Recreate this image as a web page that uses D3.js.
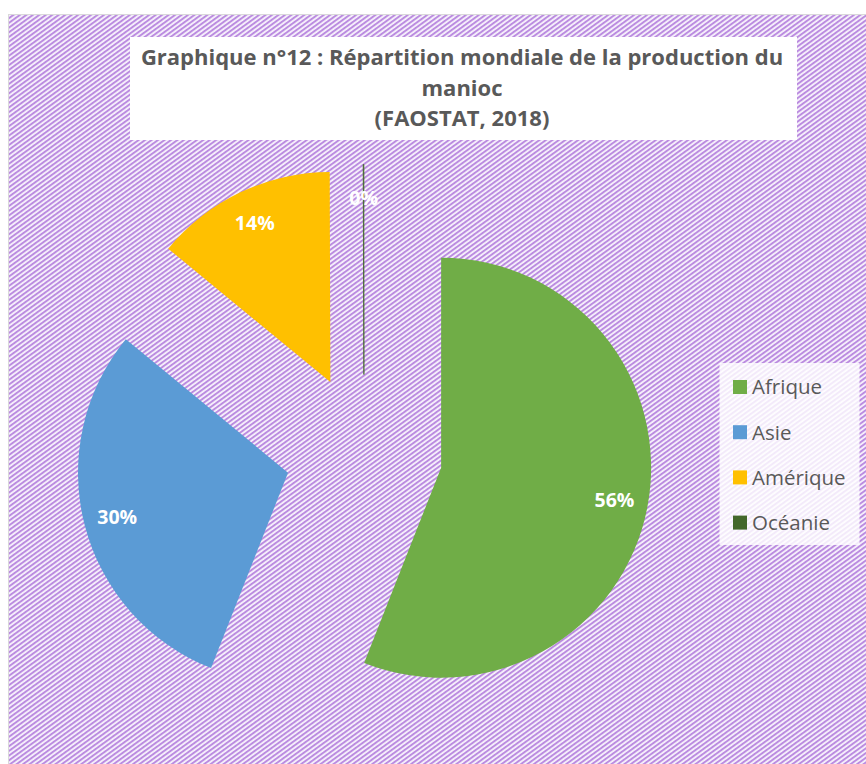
<!DOCTYPE html>
<html>

<head>
    <meta charset="utf-8">
    <script src="https://d3js.org/d3.v7.min.js"></script>
    <style>
        body {
            margin: 0;
            background: #ffffff;
        }
        text {
            font-family: "Open Sans", "Noto Sans", sans-serif;
        }
    </style>
</head>

<body>
    <div id="my_dataviz"></div>
</body>
<script>

    // data
    var categories = ["Afrique", "Asie", "Amérique", "Océanie"];
    var values = [56, 30, 14, 0.05];
    var colors = ["#70AD47", "#5B9BD5", "#FFC000", "#43682B"];
    var titleLines = ["Graphique n°12 : Répartition mondiale de la production du", "manioc", "(FAOSTAT, 2018)"];

    var width = 866, height = 764;

    var svg = d3.select("#my_dataviz")
        .append("svg")
        .attr("width", width)
        .attr("height", height);

    // hatched background pattern
    var defs = svg.append("defs");
    var pat = defs.append("pattern")
        .attr("id", "hatch")
        .attr("patternUnits", "userSpaceOnUse")
        .attr("width", 3.8)
        .attr("height", 20)
        .attr("patternTransform", "rotate(54)");
    pat.append("rect")
        .attr("width", 3.8).attr("height", 20)
        .attr("fill", "#f8f3fc");
    pat.append("rect")
        .attr("width", 2.0).attr("height", 20)
        .attr("fill", "#bb8ce0");

    // chart area
    svg.append("rect")
        .attr("x", 8.5)
        .attr("y", 14.5)
        .attr("width", 870)
        .attr("height", 770)
        .attr("fill", "url(#hatch)")
        .attr("stroke", "#d9d9d9")
        .attr("stroke-width", 1);

    // title box
    svg.append("rect")
        .attr("x", 130)
        .attr("y", 37)
        .attr("width", 667)
        .attr("height", 103)
        .attr("fill", "#ffffff");

    svg.append("g")
        .selectAll("text")
        .data(titleLines)
        .enter().append("text")
        .attr("x", 462)
        .attr("y", function (d, i) { return 65 + i * 30.5; })
        .attr("text-anchor", "middle")
        .attr("font-size", "22px")
        .attr("font-weight", "bold")
        .attr("fill", "#595959")
        .text(function (d) { return d; });

    // pie
    var cx = 364, cy = 453, radius = 210, explode = 78.5;
    var total = d3.sum(values);
    var pct = d3.format(".0%");

    var pie = d3.pie().sort(null).value(function (d) { return d.value; });
    var arc = d3.arc().innerRadius(0).outerRadius(radius);

    var data = categories.map(function (c, i) {
        return { name: c, value: values[i], color: colors[i] };
    });
    var arcs = pie(data);

    function offset(d, dist) {
        var a = (d.startAngle + d.endAngle) / 2;
        return [Math.sin(a) * dist, -Math.cos(a) * dist];
    }

    var slices = svg.append("g")
        .attr("transform", "translate(" + cx + "," + cy + ")")
        .selectAll("g")
        .data(arcs)
        .enter().append("g")
        .attr("transform", function (d) {
            var o = offset(d, explode);
            return "translate(" + o[0] + "," + o[1] + ")";
        });

    slices.append("path")
        .attr("d", arc)
        .attr("fill", function (d) { return d.data.color; })
        .attr("stroke", function (d) { return d.data.color; })
        .attr("stroke-width", function (d) { return d.data.value < 1 ? 0.8 : 0; });

    slices.append("text")
        .attr("transform", function (d) {
            var o = offset(d, radius * 0.84);
            return "translate(" + o[0] + "," + o[1] + ")";
        })
        .attr("dy", "0.35em")
        .attr("text-anchor", "middle")
        .attr("font-size", "19.5px")
        .attr("font-weight", "bold")
        .attr("fill", "#ffffff")
        .text(function (d) { return pct(d.data.value / total); });

    // legend
    var legend = svg.append("g");
    legend.append("rect")
        .attr("x", 719.5)
        .attr("y", 363)
        .attr("width", 140)
        .attr("height", 182)
        .attr("fill", "#ffffff")
        .attr("fill-opacity", 0.82);

    var items = legend.selectAll("g.item")
        .data(data)
        .enter().append("g")
        .attr("class", "item")
        .attr("transform", function (d, i) { return "translate(733," + (387 + i * 45.2) + ")"; });

    items.append("rect")
        .attr("x", 0)
        .attr("y", -7)
        .attr("width", 14)
        .attr("height", 14)
        .attr("fill", function (d) { return d.color; });

    items.append("text")
        .attr("x", 19)
        .attr("y", 0)
        .attr("dy", "0.36em")
        .attr("font-size", "20.5px")
        .attr("fill", "#595959")
        .text(function (d) { return d.name; });

</script>

</html>
